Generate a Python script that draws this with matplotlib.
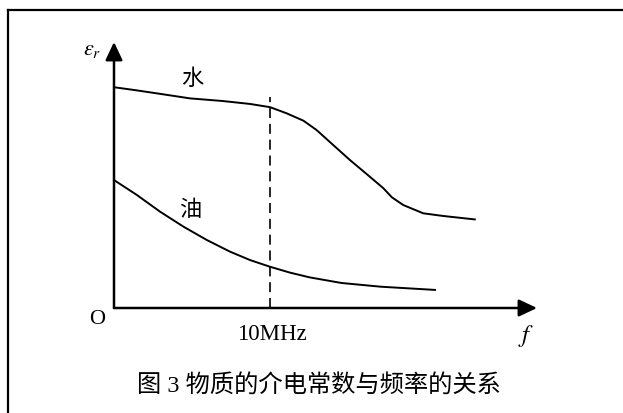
import matplotlib
matplotlib.use("Agg")
import matplotlib.pyplot as plt
from matplotlib.lines import Line2D

plt.rcParams['mathtext.fontset'] = 'stix'

# curve values (x: frequency axis 0..100, y: eps_r 0..100)
water_x = [0, 5, 10.1, 18, 25.8, 32.2, 36.9, 40.8, 44.8, 47.9, 51.8, 55.8, 59.7,
           63.7, 65.7, 68.4, 73.1, 77.8, 85.3]
water_y = [83, 81.9, 80.7, 78.8, 77.8, 76.7, 75.5, 73.2, 70.4, 66.9, 61.3, 55.6, 50.4,
           45.0, 41.6, 38.7, 35.6, 34.6, 33.3]
oil_x = [0, 5.4, 10.9, 16.4, 21.9, 27.4, 32.2, 36.9, 41.6, 46.3, 53.8, 63.1, 75.9]
oil_y = [48.1, 42.5, 36.2, 30.6, 25.6, 21.2, 18.0, 15.5, 13.3, 11.5, 9.4, 8.0, 6.8]
cut_freq = 36.9
cut_top = 79.4

label_x = "10MHz"
caption = "图 3 物质的介电常数与频率的关系"
cjk = ['Liberation Serif', 'Noto Sans CJK SC']

W, H = 623, 413
fig = plt.figure(figsize=(W / 100, H / 100), dpi=100)
fig.patch.set_facecolor('white')

# outer frame: only top and left edges are visible
fig.add_artist(Line2D([8 / W, 1], [1 - 9.5 / H, 1 - 9.5 / H], color='black', lw=1.6))
fig.add_artist(Line2D([8 / W, 8 / W], [0, 1 - 9.5 / H], color='black', lw=1.6))

# plotting box from origin to arrow tips
x0, x1, y0, y1 = 114, 537, 308, 42
ax = fig.add_axes([x0 / W, 1 - y0 / H, (x1 - x0) / W, (y0 - y1) / H])
ax.set_xlim(0, 100)
ax.set_ylim(0, 100)
ax.axis('off')

arrow = dict(arrowstyle='-|>,head_length=0.55,head_width=0.26', mutation_scale=20,
             lw=1.8, color='black', shrinkA=0, shrinkB=0)
ax.annotate('', xy=(1, 0), xytext=(0, 0), xycoords='axes fraction', arrowprops=arrow)
ax.annotate('', xy=(0, 1), xytext=(0, 0), xycoords='axes fraction', arrowprops=arrow)

ax.plot(water_x, water_y, color='black', lw=1.4, clip_on=False, solid_joinstyle='round')
ax.plot(oil_x, oil_y, color='black', lw=1.4, clip_on=False, solid_joinstyle='round')
ax.plot([cut_freq, cut_freq], [0, cut_top], color='black', lw=1.2, dashes=(6, 3.5))

# labels
fig.text(92 / W, 1 - 50 / H, r'$\varepsilon_r$', fontsize=16, ha='center', va='center')
fig.text(97.5 / W, 1 - 319 / H, 'O', fontsize=16, family='Liberation Serif', ha='center', va='center')
fig.text(272 / W, 1 - 334 / H, label_x, fontsize=16.5, family='Liberation Serif', ha='center', va='center')
fig.text(526 / W, 1 - 336 / H, r'$f$', fontsize=18, ha='center', va='center')
fig.text(192.5 / W, 1 - 80 / H, '水', fontsize=16, family=cjk, ha='center', va='center')
fig.text(190 / W, 1 - 211 / H, '油', fontsize=16, family=cjk, ha='center', va='center')
fig.text(319 / W, 1 - 385 / H, caption, fontsize=17.5, family=cjk, ha='center', va='center')

fig.savefig('out.png', dpi=100, facecolor='white')
